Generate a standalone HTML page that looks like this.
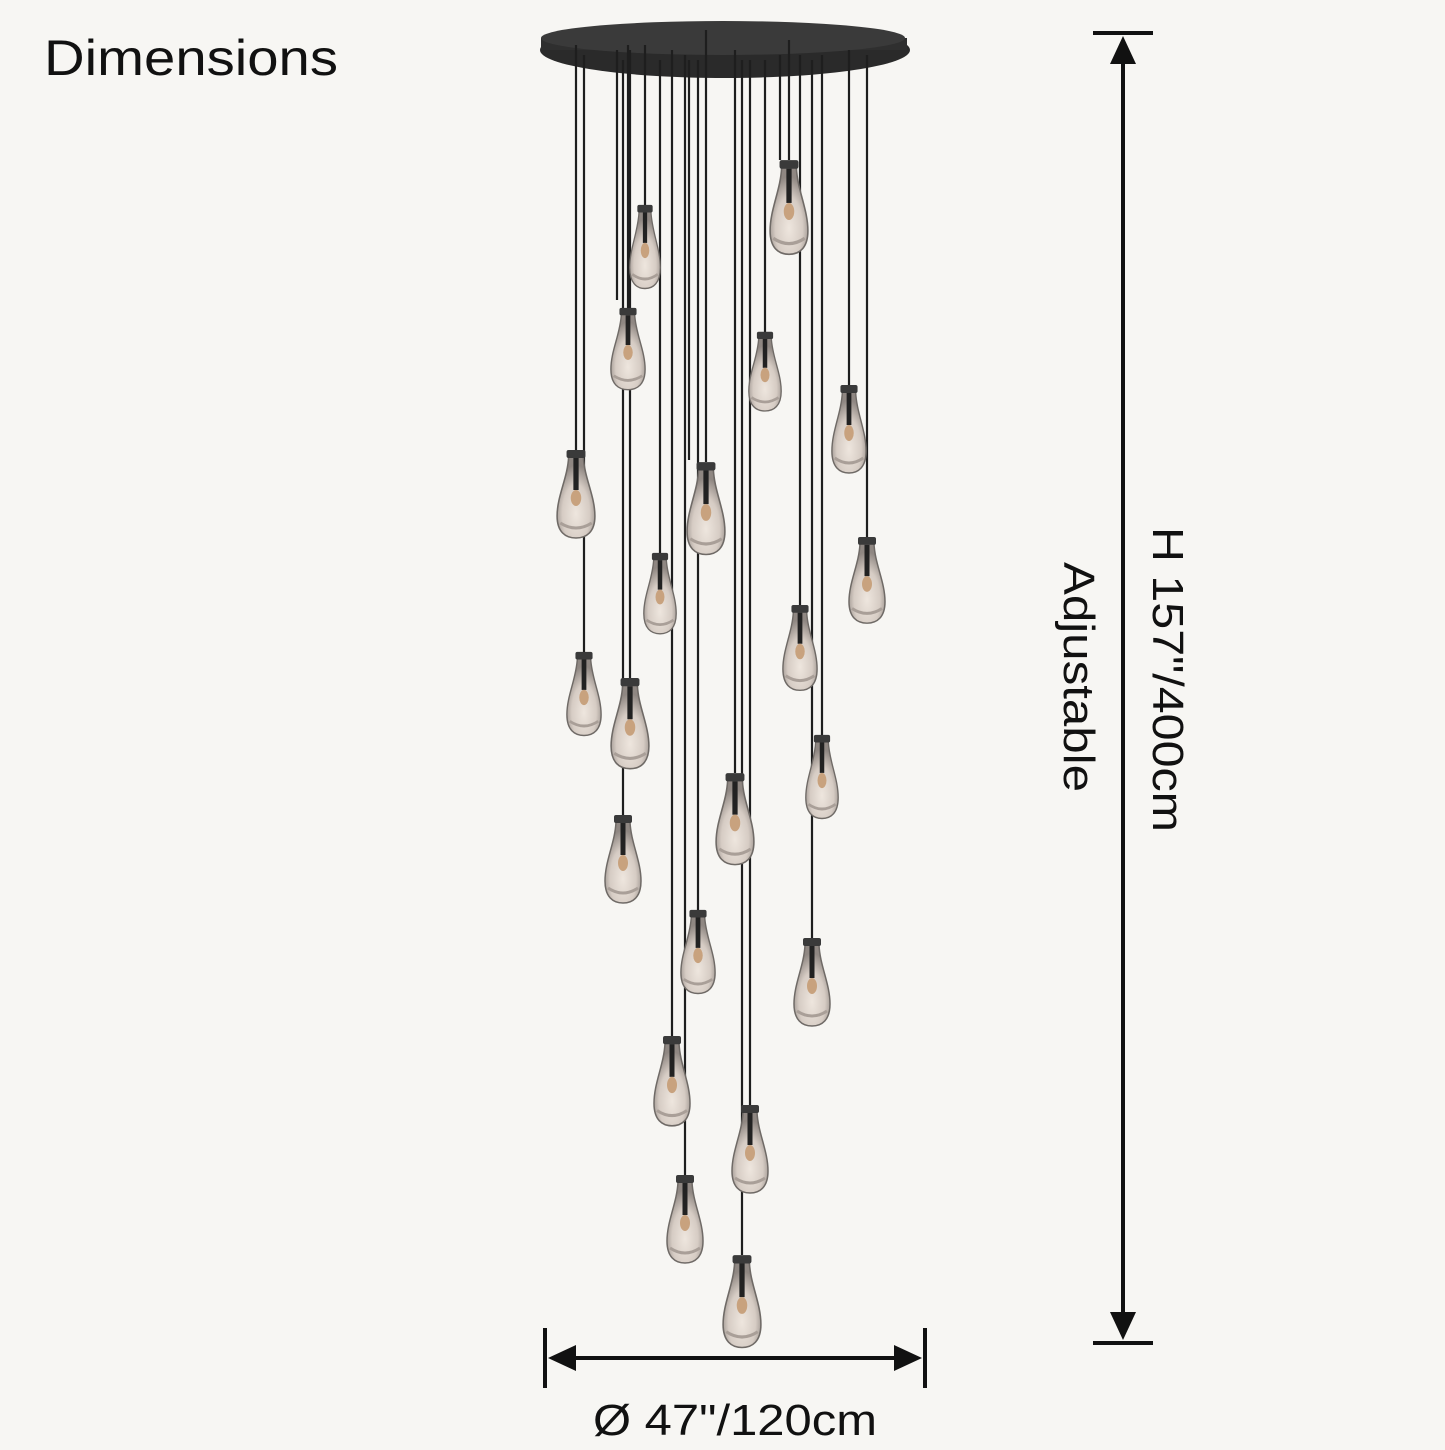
<!DOCTYPE html>
<html><head><style>
html,body{margin:0;padding:0;background:#f7f6f3;}
body{width:1445px;height:1445px;overflow:hidden;position:relative;font-family:"Liberation Sans",sans-serif;}
</style></head><body>
<svg width="1445" height="1445" viewBox="0 0 1445 1445" xmlns="http://www.w3.org/2000/svg">
<defs>
<radialGradient id="g" cx="50%" cy="70%" r="60%">
<stop offset="0" stop-color="#eee6de"/><stop offset="0.6" stop-color="#d6ccc4"/><stop offset="1" stop-color="#8f8782"/>
</radialGradient>
<g id="b">
<path d="M-7 9 L7 9 C8 30 18 48 18 68 C18 84 10 90 0 90 C-10 90 -18 84 -18 68 C-18 48 -8 30 -7 9 Z" fill="url(#g)" stroke="#6f6a66" stroke-width="1.5"/>
<rect x="-9" y="2" width="18" height="8" rx="2" fill="#3a3a3a"/>
<rect x="-2.5" y="10" width="5" height="32" fill="#222"/>
<ellipse cx="0" cy="50" rx="5" ry="8" fill="#c8a27e"/>
<path d="M-15 75 Q0 85 15 75" stroke="#a99f98" stroke-width="3" fill="none"/>
</g>
</defs>
<ellipse cx="725" cy="50" rx="185" ry="28" fill="#2a2a2a"/>
<rect x="541" y="38" width="366" height="12" fill="#2f2f2f"/>
<ellipse cx="723" cy="38" rx="182" ry="17" fill="#3a3a3a"/>
<g stroke="#1e1e1e" stroke-width="2.2">
<line x1="645" y1="45" x2="645" y2="205"/>
<line x1="789" y1="40" x2="789" y2="160"/>
<line x1="628" y1="45" x2="628" y2="308"/>
<line x1="765" y1="60" x2="765" y2="332"/>
<line x1="849" y1="50" x2="849" y2="385"/>
<line x1="576" y1="45" x2="576" y2="450"/>
<line x1="706" y1="30" x2="706" y2="462"/>
<line x1="867" y1="55" x2="867" y2="537"/>
<line x1="660" y1="60" x2="660" y2="553"/>
<line x1="800" y1="55" x2="800" y2="605"/>
<line x1="584" y1="55" x2="584" y2="652"/>
<line x1="630" y1="50" x2="630" y2="678"/>
<line x1="822" y1="55" x2="822" y2="735"/>
<line x1="735" y1="50" x2="735" y2="773"/>
<line x1="623" y1="60" x2="623" y2="815"/>
<line x1="698" y1="60" x2="698" y2="910"/>
<line x1="812" y1="60" x2="812" y2="938"/>
<line x1="672" y1="50" x2="672" y2="1036"/>
<line x1="750" y1="60" x2="750" y2="1105"/>
<line x1="685" y1="55" x2="685" y2="1175"/>
<line x1="742" y1="60" x2="742" y2="1255"/>
<line x1="617" y1="50" x2="617" y2="300"/>
<line x1="689" y1="60" x2="689" y2="460"/>
<line x1="780" y1="55" x2="780" y2="160"/>
</g>
<use href="#b" transform="translate(645,203) scale(0.85,0.95)"/>
<use href="#b" transform="translate(789,158) scale(1.05,1.07)"/>
<use href="#b" transform="translate(628,306) scale(0.95,0.93)"/>
<use href="#b" transform="translate(765,330) scale(0.9,0.9)"/>
<use href="#b" transform="translate(849,383) scale(0.95,1.0)"/>
<use href="#b" transform="translate(576,448) scale(1.05,1.0)"/>
<use href="#b" transform="translate(706,460) scale(1.05,1.05)"/>
<use href="#b" transform="translate(867,535) scale(1.0,0.98)"/>
<use href="#b" transform="translate(660,551) scale(0.9,0.92)"/>
<use href="#b" transform="translate(800,603) scale(0.95,0.97)"/>
<use href="#b" transform="translate(584,650) scale(0.95,0.95)"/>
<use href="#b" transform="translate(630,676) scale(1.05,1.03)"/>
<use href="#b" transform="translate(822,733) scale(0.9,0.95)"/>
<use href="#b" transform="translate(735,771) scale(1.05,1.04)"/>
<use href="#b" transform="translate(623,813) scale(1.0,1.0)"/>
<use href="#b" transform="translate(698,908) scale(0.95,0.95)"/>
<use href="#b" transform="translate(812,936) scale(1.0,1.0)"/>
<use href="#b" transform="translate(672,1034) scale(1.0,1.02)"/>
<use href="#b" transform="translate(750,1103) scale(1.0,1.0)"/>
<use href="#b" transform="translate(685,1173) scale(1.0,1.0)"/>
<use href="#b" transform="translate(742,1253) scale(1.05,1.05)"/>
<g stroke="#111" stroke-width="4" fill="#111">
<line x1="1093" y1="33" x2="1153" y2="33"/>
<line x1="1093" y1="1343" x2="1153" y2="1343"/>
<line x1="1123" y1="50" x2="1123" y2="1326"/>
<polygon points="1123,36 1110,64 1136,64" stroke="none"/>
<polygon points="1123,1340 1110,1312 1136,1312" stroke="none"/>
<line x1="545" y1="1328" x2="545" y2="1388"/>
<line x1="925" y1="1328" x2="925" y2="1388"/>
<line x1="560" y1="1358" x2="910" y2="1358"/>
<polygon points="548,1358 576,1345 576,1371" stroke="none"/>
<polygon points="922,1358 894,1345 894,1371" stroke="none"/>
</g>
<g font-family="Liberation Sans, sans-serif" fill="#111">
<text x="44" y="75" font-size="50" textLength="294" lengthAdjust="spacingAndGlyphs">Dimensions</text>
<text x="593" y="1435" font-size="44" textLength="284" lengthAdjust="spacingAndGlyphs">Ø 47"/120cm</text>
<text transform="translate(1153,527) rotate(90)" font-size="44" textLength="305" lengthAdjust="spacingAndGlyphs">H 157"/400cm</text>
<text transform="translate(1064,562) rotate(90)" font-size="44" textLength="230" lengthAdjust="spacingAndGlyphs">Adjustable</text>
</g>
</svg>
</body></html>
